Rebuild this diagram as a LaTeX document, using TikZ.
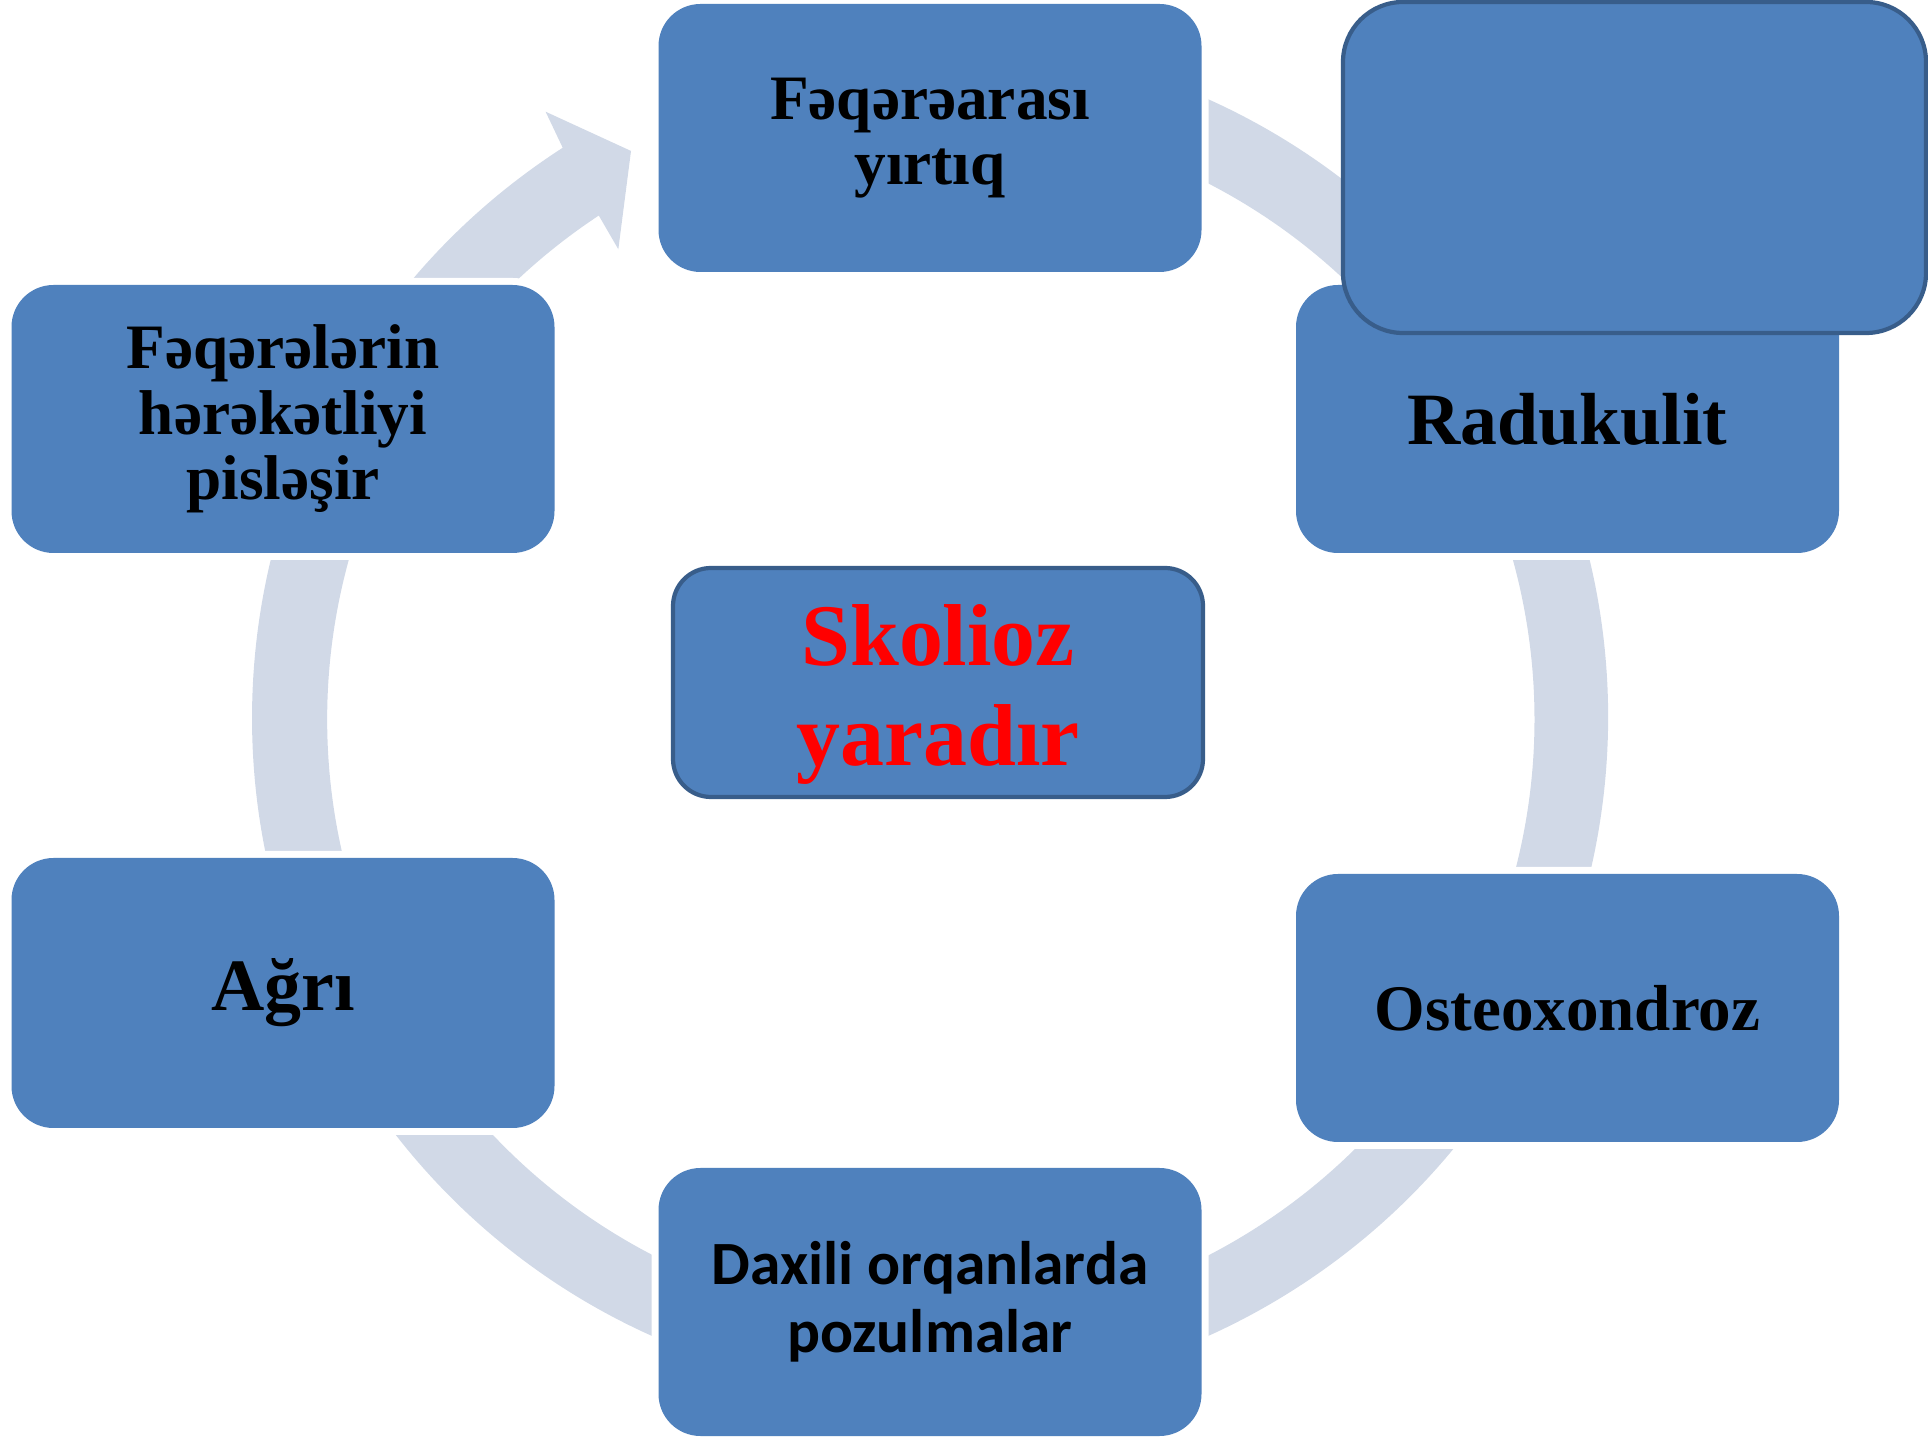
\documentclass[tikz,border=0pt]{standalone}
\usepackage{fontspec}
\setmainfont{Liberation Serif}
\newfontfamily\calibrifont{Carlito}
\usetikzlibrary{positioning}
\definecolor{boxblue}{HTML}{4F81BD}
\definecolor{edgeblue}{HTML}{385D8A}
\definecolor{ringgray}{HTML}{D1D9E7}

\begin{document}
\begin{tikzpicture}[
    block/.style={fill=boxblue, rounded corners=0.42cm, minimum width=5.43cm, minimum height=2.68cm, align=center, inner sep=0pt, preaction={draw=white, line width=0.14cm}},
    centerbox/.style={fill=boxblue, draw=edgeblue, line width=1.2pt, rounded corners=0.38cm, minimum width=5.30cm, minimum height=2.29cm, align=center, inner sep=0pt},
    coverbox/.style={fill=boxblue, draw=edgeblue, line width=1.2pt, rounded corners=0.6cm, minimum width=5.83cm, minimum height=3.31cm}
]
\useasboundingbox (0,0) rectangle (19.28,14.40);

% Cycle ring with arrow head
\coordinate (ring) at (9.31,7.21);
\fill[ringgray, shift={(ring)}]
  (122.81:6.797) arc[start angle=122.81, end angle=430, radius=6.78]
  -- (430:6.03) arc[start angle=430, end angle=123.38, radius=6.035]
  -- (123.65:5.643) -- (117.84:6.424) -- (122.4:7.193) -- cycle;

% Boxes round the ring
\node[block, font=\bfseries\fontsize{18}{18.7}\selectfont] (hernia) at (9.30,13.02) {Fəqərəarası\\yırtıq};
\node[block, font=\bfseries\fontsize{21}{24}\selectfont] (radik) at (15.675,10.21) {Radukulit};
\node[block, font=\bfseries\fontsize{18.5}{20}\selectfont] (osteo) at (15.675,4.32) {Osteoxondroz};
\node[block, font=\calibrifont\bfseries\fontsize{17.5}{19.3}\selectfont] (organ) at (9.30,1.38) {Daxili orqanlarda\\pozulmalar};
\node[block, minimum height=2.70cm, font=\bfseries\fontsize{21}{24}\selectfont] (pain) at (2.83,4.47) {Ağrı};
\node[block, font=\bfseries\fontsize{18}{18.6}\selectfont] (motion) at (2.83,10.21) {Fəqərələrin\\hərəkətliyi\\pisləşir};

% Center box
\node[centerbox] (scoli) at (9.38,7.575) {};
\node[text=red, align=center, inner sep=0pt, font=\bfseries\fontsize{25}{28.7}\selectfont] (scolitext) at ([yshift=-0.12cm]scoli.center) {Skolioz\\yaradır};

% Empty box over the corner
\node[coverbox] (cover) at (16.345,12.725) {};

\end{tikzpicture}
\end{document}
